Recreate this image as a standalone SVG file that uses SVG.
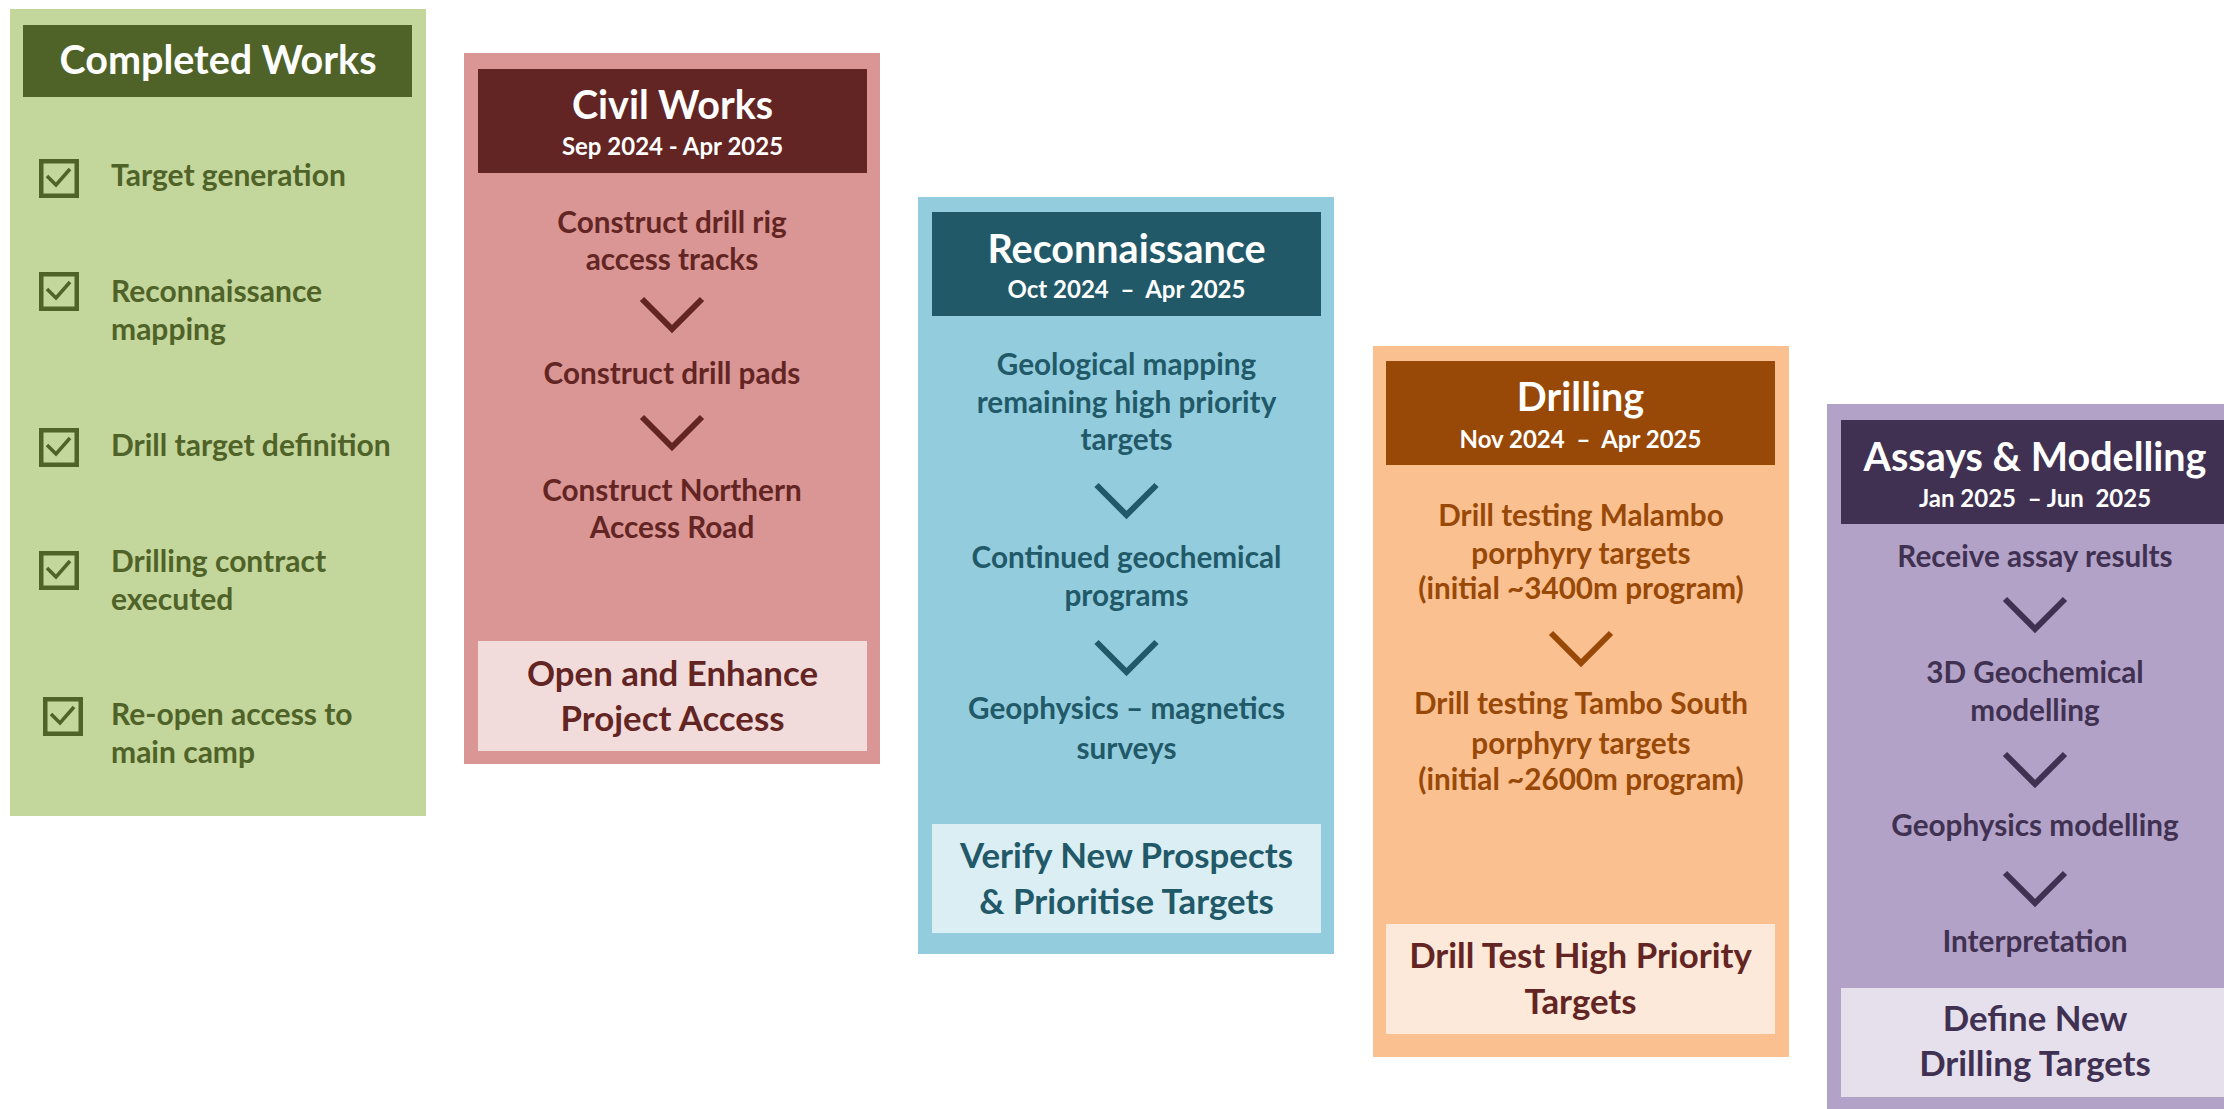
<svg xmlns="http://www.w3.org/2000/svg" width="2224" height="1109" viewBox="0 0 2224 1109">
<defs>
<style>
text{font-family:Lato,"Open Sans","Liberation Sans",sans-serif;font-weight:700}
.t{font-size:39.5px;fill:#fff;text-anchor:middle}
.d{font-size:24px;fill:#fff;text-anchor:middle}
.b{font-size:29.7px;text-anchor:middle}
.f{font-size:34.8px;text-anchor:middle}
.c{font-size:30px;fill:#4F6228}
.chev{fill:none;stroke-width:6;stroke-linejoin:miter}
</style>
<g id="chk">
<rect x="2.25" y="2.25" width="35.5" height="34.5" fill="none" stroke="#4F6228" stroke-width="4.5"/>
<path d="M8,17 L17,26 L31,10" fill="none" stroke="#4F6228" stroke-width="3.5"/>
</g>
<path id="chv" d="M-30,0 L0,30 L30,0"/>
</defs>
<rect width="2224" height="1109" fill="#fff"/>

<g id="completed">
<rect x="10" y="9" width="416" height="807" fill="#C3D69B"/>
<rect x="23" y="25" width="389" height="72" fill="#4F6228"/>
<text class="t" x="218" y="74">Completed Works</text>
<use href="#chk" x="39" y="159"/>
<text class="c" x="111" y="186">Target generation</text>
<use href="#chk" x="39" y="272"/>
<text class="c" x="111" y="302">Reconnaissance</text>
<text class="c" x="111" y="340">mapping</text>
<use href="#chk" x="39" y="428"/>
<text class="c" x="111" y="456">Drill target definition</text>
<use href="#chk" x="39" y="551"/>
<text class="c" x="111" y="572">Drilling contract</text>
<text class="c" x="111" y="610">executed</text>
<use href="#chk" x="43" y="697"/>
<text class="c" x="111" y="725">Re-open access to</text>
<text class="c" x="111" y="763">main camp</text>
</g>

<g id="civil">
<rect x="464" y="53" width="416" height="711" fill="#D99694"/>
<rect x="478" y="69" width="389" height="104" fill="#632523"/>
<text class="t" x="672.5" y="119">Civil Works</text>
<text class="d" x="672.5" y="155">Sep 2024 - Apr 2025</text>
<g fill="#632523">
<text class="b" x="672" y="233">Construct drill rig</text>
<text class="b" x="672" y="270">access tracks</text>
<text class="b" x="672" y="384">Construct drill pads</text>
<text class="b" x="672" y="501">Construct Northern</text>
<text class="b" x="672" y="538">Access Road</text>
</g>
<rect x="478" y="641" width="389" height="110" fill="#F2DCDB"/>
<g fill="#632523">
<text class="f" x="672.5" y="686">Open and Enhance</text>
<text class="f" x="672.5" y="731">Project Access</text>
</g>
</g>

<g id="recon">
<rect x="918" y="197" width="416" height="757" fill="#93CDDD"/>
<rect x="932" y="212" width="389" height="104" fill="#215968"/>
<text class="t" x="1126.5" y="263">Reconnaissance</text>
<text class="d" x="1126.5" y="298" xml:space="preserve">Oct 2024  –  Apr 2025</text>
<g fill="#215968">
<text class="b" x="1126.5" y="375">Geological mapping</text>
<text class="b" x="1126.5" y="413">remaining high priority</text>
<text class="b" x="1126.5" y="450">targets</text>
<text class="b" x="1126.5" y="568">Continued geochemical</text>
<text class="b" x="1126.5" y="606">programs</text>
<text class="b" x="1126.5" y="719">Geophysics – magnetics</text>
<text class="b" x="1126.5" y="759">surveys</text>
</g>
<rect x="932" y="824" width="389" height="109" fill="#DAEEF3"/>
<g fill="#215968">
<text class="f" x="1126.5" y="868">Verify New Prospects</text>
<text class="f" x="1126.5" y="914">&amp; Prioritise Targets</text>
</g>
</g>

<g id="drilling">
<rect x="1373" y="346" width="416" height="711" fill="#FAC090"/>
<rect x="1386" y="361" width="389" height="104" fill="#984807"/>
<text class="t" x="1580.5" y="411">Drilling</text>
<text class="d" x="1580.5" y="448" xml:space="preserve">Nov 2024  –  Apr 2025</text>
<g fill="#984807">
<text class="b" x="1581" y="526">Drill testing Malambo</text>
<text class="b" x="1581" y="564">porphyry targets</text>
<text class="b" x="1581" y="599">(initial ~3400m program)</text>
<text class="b" x="1581" y="714">Drill testing Tambo South</text>
<text class="b" x="1581" y="754">porphyry targets</text>
<text class="b" x="1581" y="790">(initial ~2600m program)</text>
</g>
<rect x="1386" y="924" width="389" height="110" fill="#FDE9D9"/>
<g fill="#632523">
<text class="f" x="1580.5" y="968">Drill Test High Priority</text>
<text class="f" x="1580.5" y="1014">Targets</text>
</g>
</g>

<g id="assays">
<rect x="1827" y="404" width="416" height="720" fill="#B3A2C7"/>
<rect x="1841" y="420" width="389" height="104" fill="#403152"/>
<text class="t" x="2035" y="471">Assays &amp; Modelling</text>
<text class="d" x="2035" y="507" xml:space="preserve">Jan 2025  – Jun  2025</text>
<g fill="#403152">
<text class="b" x="2035" y="567">Receive assay results</text>
<text class="b" x="2035" y="683">3D Geochemical</text>
<text class="b" x="2035" y="721">modelling</text>
<text class="b" x="2035" y="836">Geophysics modelling</text>
<text class="b" x="2035" y="952">Interpretation</text>
</g>
<rect x="1841" y="988" width="389" height="109" fill="#E5E0EC"/>
<g fill="#403152">
<text class="f" x="2035" y="1031">Define New</text>
<text class="f" x="2035" y="1076">Drilling Targets</text>
</g>
</g>

<g id="connectors">
<use href="#chv" x="672" y="299" class="chev" stroke="#632523"/>
<use href="#chv" x="672" y="417" class="chev" stroke="#632523"/>
<use href="#chv" x="1126.5" y="485" class="chev" stroke="#215968"/>
<use href="#chv" x="1126.5" y="642" class="chev" stroke="#215968"/>
<use href="#chv" x="1581" y="633" class="chev" stroke="#984807"/>
<use href="#chv" x="2035" y="599" class="chev" stroke="#403152"/>
<use href="#chv" x="2035" y="754" class="chev" stroke="#403152"/>
<use href="#chv" x="2035" y="873" class="chev" stroke="#403152"/>
</g>
</svg>
